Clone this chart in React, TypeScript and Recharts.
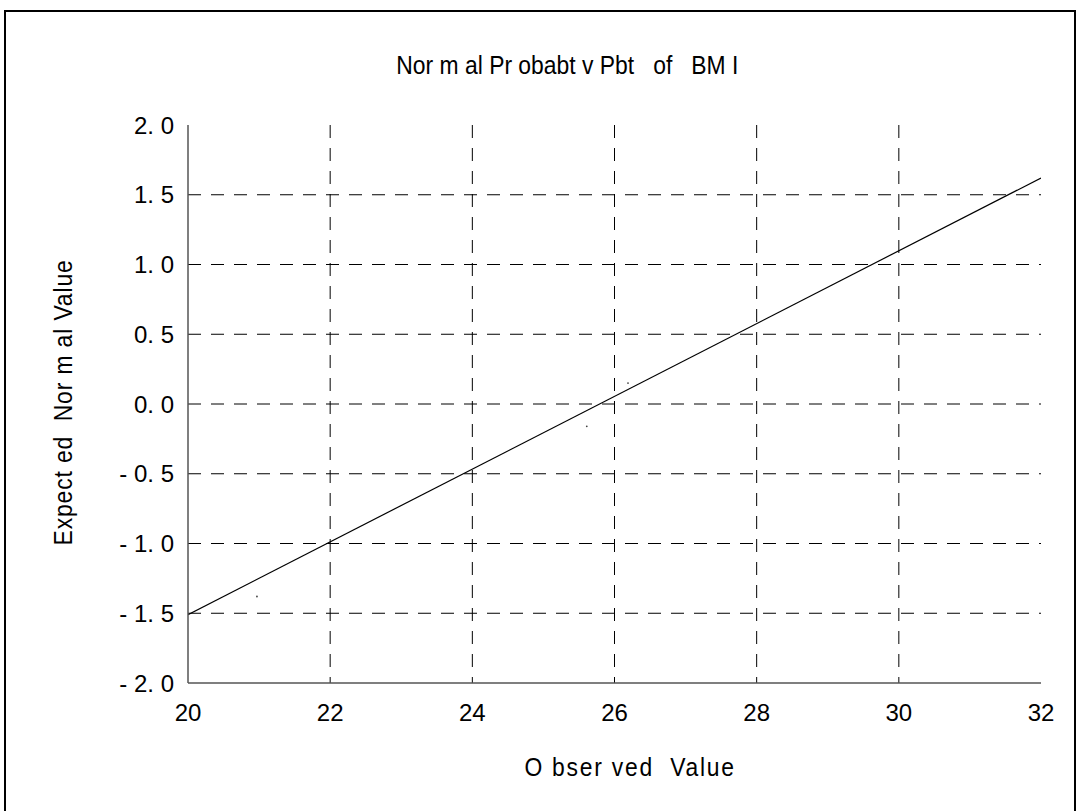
import {
  ComposedChart,
  Line,
  Scatter,
  XAxis,
  YAxis,
  CartesianGrid,
} from 'recharts';

const xTicks = [20, 22, 24, 26, 28, 30, 32];
const yTicks = [-2, -1.5, -1, -0.5, 0, 0.5, 1, 1.5, 2];
const yTickLabels = ['- 2. 0', '- 1. 5', '- 1. 0', '- 0. 5', '0. 0', '0. 5', '1. 0', '1. 5', '2. 0'];
const xGrid = [22, 24, 26, 28, 30];
const yGrid = [-1.5, -1, -0.5, 0, 0.5, 1, 1.5];
const xMinor = [21, 22, 23, 24, 25, 26, 27, 28, 29, 30, 31];
const yMinor = [
  -1.9, -1.8, -1.7, -1.6, -1.5, -1.4, -1.3, -1.2, -1.1, -1.0,
  -0.9, -0.8, -0.7, -0.6, -0.5, -0.4, -0.3, -0.2, -0.1, 0,
  0.1, 0.2, 0.3, 0.4, 0.5, 0.6, 0.7, 0.8, 0.9, 1.0,
  1.1, 1.2, 1.3, 1.4, 1.5, 1.6, 1.7, 1.8, 1.9,
];

// fitted reference line (observed BMI vs expected normal value)
const fitX = [20, 32];
const fitY = [-1.51, 1.62];

// the few observations that show off the line
const obsX = [20.97, 25.61, 26.19];
const obsY = [-1.38, -0.16, 0.15];

const fitData = fitX.map((x, i) => ({ x, y: fitY[i] }));
const obsData = obsX.map((x, i) => ({ x, y: obsY[i] }));

const font = "'Liberation Sans', Arial, sans-serif";
const frame = '#555';
const blank = () => '';

// the original labels use a tall, squeezed sans face
const squeezed = {
  fontFamily: font,
  fontSize: 26,
  whiteSpace: 'pre' as const,
  display: 'inline-block',
  transform: 'scaleX(0.88)',
};

export default function App() {
  return (
    <div style={{ position: 'absolute', left: 0, top: 0, width: 1079, height: 811, background: '#fff', overflow: 'hidden' }}>
      <div
        style={{
          position: 'absolute',
          left: 4,
          top: 10,
          width: 1068,
          height: 820,
          border: '2px solid #000',
        }}
      />
      <div style={{ position: 'absolute', left: 0, width: 1079, top: 50, textAlign: 'center', paddingLeft: 56, boxSizing: 'border-box' }}>
        <span style={squeezed}>{'Nor m al Pr obabt v Pbt   of   BM I'}</span>
      </div>
      <div style={{ position: 'absolute', left: 188, width: 853, top: 752, textAlign: 'center', paddingLeft: 32, boxSizing: 'border-box' }}>
        <span style={{ ...squeezed, letterSpacing: 2 }}>{'O bser ved  Value'}</span>
      </div>
      <div
        style={{
          position: 'absolute',
          left: 63 - 200,
          top: 402 - 15,
          width: 400,
          height: 30,
          lineHeight: '30px',
          textAlign: 'center',
          transform: 'rotate(-90deg)',
        }}
      >
        <span style={{ ...squeezed, letterSpacing: 1 }}>{'Expect ed  Nor m al Value'}</span>
      </div>
      <div style={{ position: 'absolute', left: 0, top: 0 }}>
        <ComposedChart
          width={1079}
          height={811}
          margin={{ top: 125, right: 38, bottom: 78, left: 128 }}
        >
          <CartesianGrid
            xAxisId="main"
            yAxisId="main"
            horizontalValues={yGrid}
            verticalValues={xGrid}
            stroke="#000"
            strokeDasharray="13 10"
          />
          {/* inward minor ticks on all four sides */}
          <XAxis xAxisId="minB" type="number" dataKey="x" domain={[20, 32]} ticks={xMinor} interval={0}
            orientation="bottom" mirror height={0} tickSize={5} axisLine={false} tickFormatter={blank}
            tickLine={{ stroke: frame }} allowDataOverflow />
          <XAxis xAxisId="minT" type="number" dataKey="x" domain={[20, 32]} ticks={xMinor} interval={0}
            orientation="top" mirror height={0} tickSize={5} axisLine={{ stroke: frame, strokeWidth: 1.5 }} tickFormatter={blank}
            tickLine={{ stroke: frame }} allowDataOverflow />
          <YAxis yAxisId="minL" type="number" dataKey="y" domain={[-2, 2]} ticks={yMinor} interval={0}
            orientation="left" mirror width={0} tickSize={4} axisLine={false} tickFormatter={blank}
            tickLine={{ stroke: frame }} allowDataOverflow />
          <YAxis yAxisId="minR" type="number" dataKey="y" domain={[-2, 2]} ticks={yMinor} interval={0}
            orientation="right" mirror width={0} tickSize={4} axisLine={{ stroke: frame, strokeWidth: 1.5 }} tickFormatter={blank}
            tickLine={{ stroke: frame }} allowDataOverflow />
          <XAxis
            xAxisId="main"
            type="number"
            dataKey="x"
            domain={[20, 32]}
            ticks={xTicks}
            interval={0}
            height={50}
            tickLine={false}
            tickSize={6}
            tickMargin={15}
            axisLine={{ stroke: frame, strokeWidth: 1.5 }}
            tick={{ fontSize: 24, fill: '#000', fontFamily: font }}
            allowDataOverflow
          />
          <YAxis
            yAxisId="main"
            type="number"
            dataKey="y"
            domain={[-2, 2]}
            ticks={yTicks}
            interval={0}
            width={60}
            tickLine={false}
            tickSize={6}
            tickMargin={8}
            axisLine={{ stroke: frame, strokeWidth: 1.5 }}
            tick={{ fontSize: 24, fill: '#000', fontFamily: font }}
            tickFormatter={(v) => yTickLabels[yTicks.indexOf(v)] ?? ''}
            allowDataOverflow
          />
          <Line
            xAxisId="main"
            yAxisId="main"
            data={fitData}
            dataKey="y"
            type="linear"
            stroke="#000"
            strokeWidth={1.2}
            dot={false}
            activeDot={false}
            isAnimationActive={false}
          />
          <Scatter
            xAxisId="main"
            yAxisId="main"
            data={obsData}
            dataKey="y"
            fill="#444"
            shape={(p: any) => <circle cx={p.cx} cy={p.cy} r={0.9} fill="#444" />}
            isAnimationActive={false}
          />
        </ComposedChart>
      </div>
    </div>
  );
}
